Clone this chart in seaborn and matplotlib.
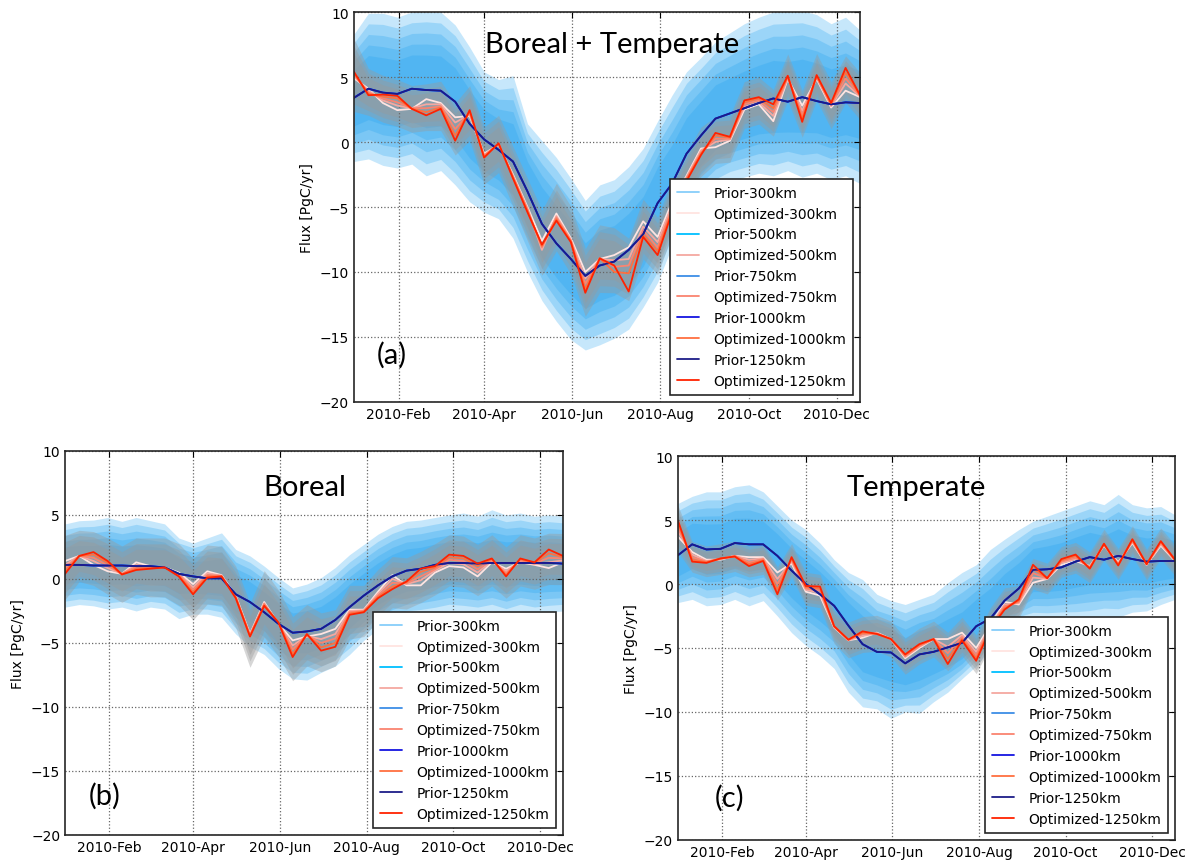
import numpy as np
import pandas as pd
import matplotlib
matplotlib.use('Agg')
import matplotlib.pyplot as plt
import matplotlib.dates as mdates
import seaborn as sns

# 10-day time steps through 2010
dates = pd.date_range('2010-01-01', periods=36, freq='10D')
resolutions = ['300km', '500km', '750km', '1000km', '1250km']

# ---- (a) Boreal + Temperate ----
prior_a = [3.4, 4.1, 3.8, 3.7, 4.1, 4.0, 3.95, 3.1, 1.4, 0.2, -0.6, -1.5, -3.8, -6.3, -7.8, -9.0, -10.3, -9.5,
           -9.2, -8.3, -7.1, -4.7, -3.2, -0.9, 0.5, 1.8, 2.2, 2.6, 3.0, 3.35, 3.1, 3.45, 3.15, 2.9, 3.05, 3.0]
opt_a_300 = [4.9, 4.1, 3.0, 2.45, 2.55, 3.3, 3.0, 1.9, 2.0, -0.9, -0.2, -2.5, -5.0, -7.6, -5.5, -7.4, -10.0, -9.0,
             -8.7, -8.1, -6.1, -7.3, -4.6, -2.6, -0.5, -0.4, 0.1, 2.5, 2.9, 1.6, 4.85, 2.8, 4.85, 2.65, 3.95, 3.45]
opt_a_500 = [5.05, 3.95, 3.2, 2.8, 2.6, 2.9, 2.9, 1.5, 2.1, -1.0, -0.15, -2.6, -5.1, -8.3, -5.7, -7.5, -10.5, -9.0,
             -9.1, -9.0, -6.5, -7.7, -4.85, -2.7, -0.65, 0.0, 0.2, 2.7, 3.05, 2.0, 4.9, 2.4, 4.95, 2.75, 4.5, 3.5]
opt_a_750 = [5.2, 3.8, 3.35, 3.05, 2.6, 2.6, 2.75, 1.0, 2.25, -1.05, -0.15, -2.65, -5.2, -8.1, -5.8, -7.6, -10.9,
             -8.95, -9.6, -9.5, -6.8, -8.1, -5.05, -2.8, -0.8, 0.25, 0.25, 2.9, 3.2, 2.3, 5.0, 2.1, 5.0, 2.85, 4.9, 3.55]
opt_a_1000 = [5.3, 3.7, 3.5, 3.35, 2.55, 2.3, 2.65, 0.5, 2.35, -1.15, -0.1, -2.75, -5.3, -8.0, -5.95, -7.65, -11.3,
              -8.95, -10.0, -10.1, -7.1, -8.4, -5.25, -2.9, -0.9, 0.5, 0.35, 3.05, 3.35, 2.6, 5.05, 1.8, 5.1, 2.95, 5.35, 3.6]
opt_a_1250 = [5.4, 3.6, 3.65, 3.55, 2.55, 2.05, 2.55, 0.1, 2.45, -1.2, -0.1, -2.8, -5.4, -7.9, -6.05, -7.7, -11.6, -8.95,
              -9.5, -11.5, -7.3, -8.7, -5.4, -3.0, -1.0, 0.7, 0.4, 3.2, 3.45, 2.9, 5.1, 1.55, 5.15, 3.0, 5.7, 3.6]
prior_hi_a = [8.3, 9.9, 9.9, 9.6, 10.0, 10.1, 10.0, 9.0, 7.3, 5.4, 4.8, 5.1, 1.4, 0.1, -1.2, -2.8, -4.5, -3.3,
              -2.9, -1.9, -0.5, 1.6, 3.6, 5.4, 6.5, 7.7, 8.4, 9.1, 9.6, 10.0, 10.1, 10.1, 9.8, 9.1, 9.6, 8.6]
prior_lo_a = [-1.5, -1.3, -1.8, -2.0, -1.7, -2.6, -2.2, -3.3, -4.6, -5.4, -5.9, -7.4, -10.0, -12.2, -13.8, -15.2,
              -16.0, -15.6, -15.1, -14.4, -12.7, -10.8, -8.0, -6.0, -4.6, -3.6, -3.0, -2.7, -2.4, -2.6, -2.2, -2.7,
              -2.4, -2.9, -2.6, -3.2]
post_err_a = [2.8, 1.8, 1.8, 1.8, 1.8, 1.8, 1.9, 2.0, 2.1, 2.2, 2.2, 2.3, 2.4, 2.5, 2.6, 2.6, 2.6, 2.6,
              2.5, 2.4, 2.3, 2.2, 2.1, 2.0, 1.9, 1.8, 1.8, 1.8, 1.8, 1.8, 1.8, 1.8, 1.8, 1.8, 1.8, 1.8]

# ---- (b) Boreal ----
prior_b = [1.1, 1.1, 1.05, 1.05, 1.05, 1.0, 1.0, 0.9, 0.4, 0.2, 0.05, 0.05, -1.2, -1.8, -2.6, -3.5, -4.2, -4.1,
           -3.9, -3.2, -2.2, -1.3, -0.5, 0.2, 0.65, 0.8, 1.1, 1.25, 1.25, 1.2, 1.25, 1.25, 1.25, 1.25, 1.25, 1.2]
opt_b_300 = [1.4, 1.8, 1.1, 0.6, 0.4, 1.3, 1.0, 0.9, 0.5, -0.4, 0.6, 0.3, -1.3, -4.3, -1.8, -3.5, -4.8, -4.5,
             -4.3, -3.9, -2.4, -2.4, -1.0, 0.3, -0.5, -0.5, 0.5, 1.0, 0.9, 0.2, 1.3, 0.8, 1.3, 1.1, 0.85, 1.3]
opt_b_500 = [1.1, 1.8, 1.4, 0.85, 0.4, 1.1, 0.95, 0.9, 0.4, -0.65, 0.45, 0.25, -1.35, -4.35, -1.9, -3.5, -5.2, -4.45,
             -4.7, -4.3, -2.5, -2.45, -1.15, 0.0, -0.4, -0.1, 0.65, 1.25, 1.15, 0.5, 1.4, 0.6, 1.4, 1.15, 1.3, 1.45]
opt_b_750 = [0.85, 1.8, 1.65, 1.05, 0.4, 0.95, 0.9, 0.9, 0.35, -0.85, 0.3, 0.25, -1.4, -4.4, -1.95, -3.45, -5.5, -4.4,
             -5.0, -4.65, -2.6, -2.5, -1.3, -0.3, -0.35, 0.2, 0.75, 1.5, 1.4, 0.75, 1.45, 0.45, 1.45, 1.2, 1.65, 1.6]
opt_b_1000 = [0.6, 1.8, 1.9, 1.25, 0.35, 0.8, 0.85, 0.9, 0.25, -1.05, 0.2, 0.2, -1.45, -4.45, -2.05, -3.4, -5.85,
              -4.35, -5.35, -5.0, -2.7, -2.55, -1.4, -0.6, -0.25, 0.55, 0.9, 1.7, 1.6, 1.0, 1.55, 0.3, 1.55, 1.25, 2.0, 1.7]
opt_b_1250 = [0.4, 1.8, 2.1, 1.4, 0.35, 0.7, 0.8, 0.9, 0.2, -1.2, 0.1, 0.2, -1.5, -4.5, -2.1, -3.4, -6.1, -4.3,
              -5.6, -5.3, -2.8, -2.6, -1.5, -0.8, -0.2, 0.8, 1.0, 1.9, 1.8, 1.2, 1.6, 0.2, 1.6, 1.3, 2.3, 1.8]
prior_hi_b = [4.3, 4.55, 4.6, 4.8, 4.5, 4.8, 4.55, 4.3, 3.2, 2.8, 3.2, 3.6, 2.3, 1.8, 1.0, 0.1, -0.7, -0.4,
              0.1, 0.9, 1.9, 2.7, 3.5, 4.1, 4.5, 4.6, 4.8, 5.0, 5.15, 4.9, 5.4, 5.0, 5.15, 4.9, 5.0, 4.9]
prior_lo_b = [-2.2, -2.0, -2.1, -2.35, -2.2, -2.5, -2.2, -2.35, -3.1, -2.75, -2.75, -3.0, -4.3, -5.3, -5.9, -7.0,
              -7.8, -7.9, -7.3, -6.8, -5.9, -4.8, -3.9, -3.4, -3.0, -2.9, -2.75, -2.5, -2.6, -2.75, -2.5, -2.9,
              -2.5, -2.75, -2.6, -2.5]
post_err_b = [2.5, 2.0, 2.1, 2.2, 2.2, 2.2, 2.3, 2.3, 2.4, 2.4, 2.3, 2.3, 2.4, 2.5, 2.6, 2.6, 2.5, 2.4,
              2.3, 2.2, 2.1, 2.0, 2.0, 2.0, 2.0, 2.0, 2.0, 2.0, 2.0, 2.0, 2.0, 2.0, 2.0, 2.0, 2.0, 2.0]

# ---- (c) Temperate ----
prior_c = [2.25, 3.1, 2.7, 2.75, 3.2, 3.1, 3.1, 2.2, 1.05, 0.0, -0.8, -1.7, -3.25, -4.7, -5.3, -5.35, -6.2, -5.5,
           -5.3, -4.95, -4.6, -3.3, -2.7, -1.3, -0.35, 1.1, 1.15, 1.3, 1.75, 2.1, 1.9, 2.2, 1.95, 1.75, 1.8, 1.8]
opt_c_300 = [3.7, 2.5, 1.9, 1.9, 2.2, 2.1, 2.1, 0.9, 1.6, -0.6, -0.9, -3.4, -4.4, -4.2, -3.8, -4.3, -5.8, -5.0,
             -4.3, -4.3, -3.8, -5.0, -3.2, -1.4, -1.6, 0.1, 0.4, 1.5, 1.8, 1.4, 3.0, 1.7, 3.2, 1.5, 3.0, 1.8]
opt_c_500 = [4.1, 2.3, 1.8, 1.95, 2.2, 1.9, 2.0, 0.4, 1.75, -0.45, -0.7, -3.35, -4.4, -4.05, -3.85, -4.3, -5.7, -4.9,
             -4.3, -4.9, -4.0, -5.3, -3.3, -1.6, -1.5, 0.5, 0.4, 1.65, 1.95, 1.35, 3.05, 1.6, 3.3, 1.5, 3.1, 1.85]
opt_c_750 = [4.4, 2.1, 1.75, 1.95, 2.2, 1.7, 1.95, 0.0, 1.9, -0.35, -0.5, -3.35, -4.35, -3.9, -3.85, -4.3, -5.65,
             -4.85, -4.3, -5.4, -4.15, -5.55, -3.35, -1.75, -1.4, 0.85, 0.45, 1.75, 2.05, 1.3, 3.1, 1.55, 3.35, 1.55,
             3.2, 1.85]
opt_c_1000 = [4.7, 1.9, 1.7, 2.0, 2.15, 1.55, 1.85, -0.45, 2.0, -0.25, -0.35, -3.3, -4.35, -3.8, -3.9, -4.3, -5.55,
              -4.75, -4.3, -5.85, -4.3, -5.8, -3.45, -1.9, -1.3, 1.2, 0.45, 1.85, 2.2, 1.25, 3.1, 1.5, 3.45, 1.55,
              3.3, 1.9]
opt_c_1250 = [4.95, 1.75, 1.65, 2.0, 2.15, 1.4, 1.8, -0.8, 2.1, -0.15, -0.2, -3.3, -4.35, -3.7, -3.9, -4.3, -5.5, -4.7,
              -4.3, -6.25, -4.4, -6.0, -3.5, -2.0, -1.2, 1.5, 0.45, 1.95, 2.3, 1.2, 3.15, 1.45, 3.5, 1.55, 3.35, 1.9]
prior_hi_c = [6.3, 6.85, 7.2, 7.2, 7.6, 7.75, 7.2, 6.1, 5.0, 4.25, 3.2, 1.9, 0.9, 0.35, -0.8, -1.3, -1.6, -1.2,
              -0.8, 0.1, 0.9, 1.5, 2.7, 3.5, 4.25, 4.9, 5.3, 5.7, 6.1, 6.5, 6.2, 7.0, 6.2, 5.95, 6.05, 5.4]
prior_lo_c = [-1.45, -1.2, -1.7, -1.6, -1.2, -1.7, -1.3, -2.5, -3.8, -4.8, -5.6, -6.6, -8.45, -9.6, -9.75, -10.5,
              -10.0, -10.1, -9.2, -8.45, -7.4, -6.4, -5.1, -3.8, -2.9, -2.75, -2.8, -2.75, -2.8, -2.75, -2.5, -2.6,
              -2.2, -2.1, -1.6, -1.2]
post_err_c = [1.8, 1.2, 1.2, 1.2, 1.2, 1.2, 1.2, 1.3, 1.3, 1.3, 1.3, 1.3, 1.4, 1.4, 1.4, 1.4, 1.4, 1.4,
              1.4, 1.5, 1.5, 1.5, 1.5, 1.4, 1.3, 1.2, 1.2, 1.2, 1.2, 1.2, 1.2, 1.2, 1.2, 1.2, 1.2, 1.2]

prior_colors = ['#87cefa', '#00bfff', '#3d8ee6', '#1515e0', '#1c1c88']
opt_colors = ['#ffe4e1', '#f5a8a0', '#fa8470', '#ff7040', '#ff2200']
# share of the prior / posterior spread covered by each nested band
prior_band_levels = [1.0, 0.86, 0.72, 0.58, 0.44]
post_band_levels = [1.0, 0.8, 0.6]

sns.set_style('white')
plt.rcParams.update({
    'font.family': ['DejaVu Sans'],
    'text.color': 'black', 'axes.labelcolor': 'black',
    'xtick.color': 'black', 'ytick.color': 'black',
    'xtick.direction': 'in', 'ytick.direction': 'in',
    'xtick.top': True, 'ytick.right': True,
    'xtick.major.size': 4, 'ytick.major.size': 4,
    'xtick.labelsize': 10, 'ytick.labelsize': 10,
    'axes.edgecolor': '0.15', 'axes.linewidth': 1.2,
})


def draw_panel(ax, prior, hi, lo, opts, post_err, title, title_xy, tag, tag_xy):
    prior = np.array(prior)
    hi = np.array(hi)
    lo = np.array(lo)
    opts = [np.array(o) for o in opts]
    for f in prior_band_levels:
        ax.fill_between(dates, prior + (hi - prior) * f, prior + (lo - prior) * f,
                        color='#1ea0f0', alpha=0.25, lw=0)
    centre = (opts[0] + opts[-1]) / 2
    err = np.array(post_err)
    for f in post_band_levels:
        ax.fill_between(dates, centre + err * f, centre - err * f, color='#9a9a9a', alpha=0.4, lw=0)
    for k, res in enumerate(resolutions):
        sns.lineplot(x=dates, y=prior, color=prior_colors[k], lw=1.3, label='Prior-' + res, ax=ax)
        sns.lineplot(x=dates, y=opts[k], color=opt_colors[k], lw=1.3, label='Optimized-' + res, ax=ax)

    ax.set_xlim(dates[0], dates[-1])
    ax.set_ylim(-20, 10)
    ax.set_yticks(range(-20, 11, 5))
    ax.xaxis.set_major_locator(mdates.MonthLocator(bymonth=[2, 4, 6, 8, 10, 12]))
    ax.xaxis.set_major_formatter(mdates.DateFormatter('%Y-%b'))
    ax.set_axisbelow('line')
    ax.grid(True, ls=':', color='0.4', lw=0.9)
    ax.set_xlabel('')
    ax.set_ylabel('Flux [PgC/yr]', fontsize=10)
    leg = ax.legend(loc='lower right', fontsize=10, frameon=True, fancybox=False, edgecolor='0.15',
                    framealpha=1, handlelength=1.6, handletextpad=1.0, labelspacing=0.5, borderpad=0.5)
    leg.get_frame().set_linewidth(1.2)
    ax.text(title_xy[0], title_xy[1], title, transform=ax.transAxes, ha='center', va='center',
            fontsize=21, family='Lato', color='black')
    ax.text(tag_xy[0], tag_xy[1], tag, transform=ax.transAxes, ha='center', va='center',
            fontsize=21, family='Lato', color='black')


fig = plt.figure(figsize=(11.93, 8.62), dpi=100)
ax_a = fig.add_axes([0.2967, 0.5325, 0.4242, 0.4524])
ax_b = fig.add_axes([0.0545, 0.0302, 0.4174, 0.4455])
ax_c = fig.add_axes([0.5683, 0.0244, 0.4166, 0.4454])

draw_panel(ax_a, prior_a, prior_hi_a, prior_lo_a,
           [opt_a_300, opt_a_500, opt_a_750, opt_a_1000, opt_a_1250], post_err_a,
           'Boreal + Temperate', (0.51, 0.918), '(a)', (0.075, 0.123))
draw_panel(ax_b, prior_b, prior_hi_b, prior_lo_b,
           [opt_b_300, opt_b_500, opt_b_750, opt_b_1000, opt_b_1250], post_err_b,
           'Boreal', (0.482, 0.906), '(b)', (0.08, 0.104))
draw_panel(ax_c, prior_c, prior_hi_c, prior_lo_c,
           [opt_c_300, opt_c_500, opt_c_750, opt_c_1000, opt_c_1250], post_err_c,
           'Temperate', (0.479, 0.919), '(c)', (0.103, 0.112))

fig.savefig('out.png', dpi=100)
